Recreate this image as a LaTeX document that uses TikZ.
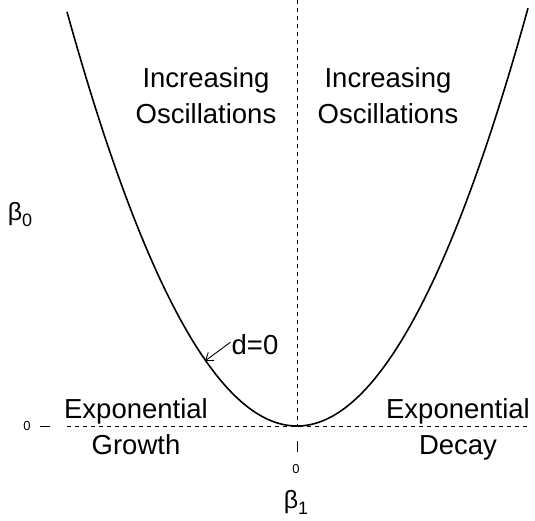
\documentclass[tikz,border=0pt]{standalone}
\usepackage{fontspec}
\setmainfont{Liberation Sans}
\usepackage{tikz}
\usetikzlibrary{arrows.meta,positioning,calc}

\begin{document}
\begin{tikzpicture}[
  x=1pt, y=-1pt,
  region/.style={align=center, inner sep=0pt, anchor=north, font=\fontsize{27.5}{36}\selectfont},
  ticklab/.style={inner sep=0pt, font=\fontsize{13}{15}\selectfont},
  axlab/.style={inner sep=0pt, anchor=base, font=\fontsize{25}{28}\selectfont},
  guide/.style={dashed, dash pattern=on 4pt off 4pt, line width=0.9pt},
  >={Straight Barb[length=7pt,width=10pt]}
]
\useasboundingbox (0,0) rectangle (535,520);

% axes of the (beta1, beta0) plane -- dashed, crossing at the vertex
\coordinate (org)   at (297,426);
\coordinate (top)   at (297,0);
\coordinate (hleft) at (67,426);
\coordinate (hright) at (530,426);
\draw[guide] (top) -- (org);
\draw[guide] (hleft) -- (hright);

% d=0 boundary, beta0 = -beta1^2/4
\draw[line width=1.6pt] plot[domain=67:528, samples=120] (\x, {426-78.3*((\x-297)/100)^2});

% region labels (top edge of first line)
\node[region] (incL) at (206,67)  {Increasing\\Oscillations};
\node[region] (incR) at (388,67)  {Increasing\\Oscillations};
\node[region] (expL) at (136,398) {Exponential\\Growth};
\node[region] (expR) at (458,398) {Exponential\\Decay};

% curve label with its pointer
\node[region, anchor=base] (dlab) at (255,354) {d=0};
\coordinate (dtip) at (205,361);
\draw[->, line width=0.9pt] ([xshift=-1pt,yshift=2pt]dlab.west) -- (dtip);

% ticks
\node[ticklab] (y0) at (27,426) {0};
\coordinate (ytk) at (40,426);
\draw[line width=0.9pt] (ytk) -- ++(10,0);
\node[ticklab] (x0) at (296,469) {0};
\coordinate (xtk) at (297,441);
\draw[line width=0.9pt] (xtk) -- ++(0,11);

% axis names
\node[axlab] (b1) at (296,508) {β\raisebox{-0.24em}{\fontsize{18}{20}\selectfont 1}};
\node[axlab] (b0) at (20,220)  {β\raisebox{-0.24em}{\fontsize{18}{20}\selectfont 0}};
\end{tikzpicture}
\end{document}
